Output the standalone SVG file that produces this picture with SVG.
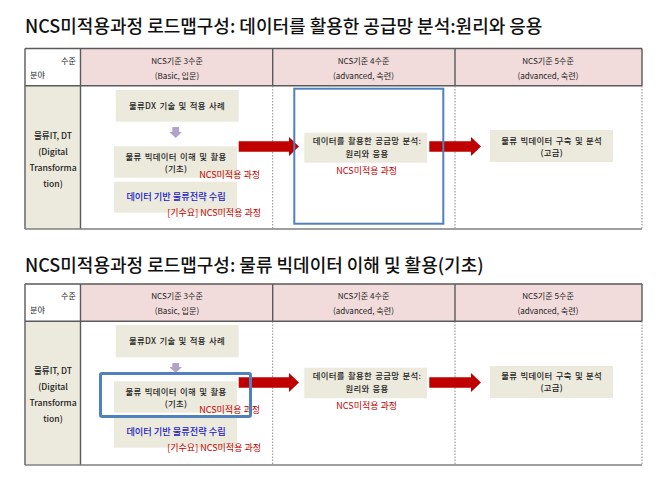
<svg xmlns="http://www.w3.org/2000/svg" width="660" height="495" viewBox="0 0 660 495">
<defs>
<style>
text{font-family:"Noto Sans CJK KR","Noto Sans",sans-serif;fill:#222}
.title{font-size:18px;font-weight:500;fill:#111}
.s{font-size:8.100px}
.m{font-size:8.400px;font-weight:500;letter-spacing:.3px;word-spacing:1px}
.l{font-size:8.600px;font-weight:500}
.c{text-anchor:middle}
.r{font-size:9px;fill:#c00000;font-weight:400}
.b{font-size:9.200px;fill:#2020c8;font-weight:500}
.hd{fill:#f2dcdb}
.bx{fill:#eceadc}
.ln{stroke:#5a5a5a;stroke-width:1.4;fill:none}
.bt{stroke:#7f7f7f;stroke-width:1.4;fill:none}
.dt{stroke:#8a8a8a;stroke-width:1;stroke-dasharray:1.5 1.5;fill:none}
.ar{fill:#c00000}
.pa{fill:#b3a2c7}
.hl{fill:none;stroke:#4f81bd}
</style>
</defs>
<rect width="660" height="495" fill="#fff"/>

<text class="title" x="25" y="33">NCS미적용과정 로드맵구성: 데이터를 활용한 공급망 분석:원리와 응용</text>
<g id="table-1">
<rect class="hd" x="81" y="48.500" width="561" height="37"/>
<rect class="bx" x="26" y="86" width="54.500" height="143"/>
<path class="ln" d="M25 48.500H642M25 85.800H642M25 48.500V229M80.500 48.500V229M272.700 48.500V85.800M455 48.500V85.800M642 48.500V85.800"/>
<path class="bt" d="M25 229H642"/>
<path class="dt" d="M272.700 86V229M455 86V229M642 86V229"/>
<g id="t1-corner"><text class="s" x="76" y="64" text-anchor="end">수준</text><text class="s" x="30" y="78">분야</text></g>
<g id="t1-h3"><text class="s c"><tspan x="177" y="64">NCS기준 3수준</tspan><tspan x="177" y="78.500">(Basic, 입문)</tspan></text></g>
<g id="t1-h4"><text class="s c"><tspan x="363.500" y="64">NCS기준 4수준</tspan><tspan x="363.500" y="78.500">(advanced, 숙련)</tspan></text></g>
<g id="t1-h5"><text class="s c"><tspan x="548" y="64">NCS기준 5수준</tspan><tspan x="548" y="78.500">(advanced, 숙련)</tspan></text></g>
<g id="t1-field"><text class="l c"><tspan x="53" y="139">물류IT, DT</tspan><tspan x="53" y="155">(Digital</tspan><tspan x="53" y="171">Transforma</tspan><tspan x="53" y="187">tion)</tspan></text></g>
</g>
<g id="t1-connectors">
<path class="pa" d="M172.300 127H179V132H182L175.700 138L169.300 132H172.300Z"/>
<path class="ar" d="M238.700 141.300H289V137L299 146.500L289 156V151.700H238.700Z"/>
<path class="ar" d="M429.300 141.300H471V137L481 146.500L471 156V151.700H429.300Z"/>
</g>
<g id="t1-n1"><rect class="bx" x="115.700" y="90" width="123" height="31.700"/><text class="m c" x="177" y="109">물류DX 기술 및 적용 사례</text></g>
<g id="t1-n2"><rect class="bx" x="114" y="146.300" width="123" height="31.400"/><text class="m c" x="176" y="159.500">물류 빅데이터 이해 및 활용</text><text class="m c" x="176" y="171.800">(기초)</text></g>
<g id="t1-n3"><rect class="bx" x="114" y="181.700" width="123" height="31"/><text class="b c" x="176" y="200">데이터 기반 물류전략 수립</text></g>
<g id="t1-n4"><rect class="bx" x="304.300" y="132.700" width="122.700" height="30"/><text class="m c" x="367" y="144.300">데이터를 활용한 공급망 분석:</text><text class="m c" x="367" y="156.600">원리와 응용</text></g>
<g id="t1-n5"><rect class="bx" x="490" y="130" width="123" height="32"/><text class="m c" x="551.700" y="144">물류 빅데이터 구축 및 분석</text><text class="m c" x="551.700" y="156.300">(고급)</text></g>
<g id="t1-notes">
<text class="r" x="260" y="178" text-anchor="end">NCS미적용 과정</text>
<text class="r" x="261" y="216" text-anchor="end">[기수요] NCS미적용 과정</text>
<text class="r c" x="366.700" y="173.700">NCS미적용 과정</text>
</g>
<rect id="t1-highlight" class="hl" x="294.300" y="88.700" width="149" height="135" stroke-width="2"/>

<text class="title" x="25" y="272">NCS미적용과정 로드맵구성: 물류 빅데이터 이해 및 활용(기초)</text>
<g id="table-2">
<rect class="hd" x="81" y="284" width="561" height="37"/>
<rect class="bx" x="26" y="321.500" width="54.500" height="143"/>
<path class="ln" d="M25 284H642M25 321.300H642M25 284V465M80.500 284V465M272.700 284V321.300M455 284V321.300M642 284V321.300"/>
<path class="bt" d="M25 465H642"/>
<path class="dt" d="M272.700 321.500V465M455 321.500V465M642 321.500V465"/>
<g id="t2-corner"><text class="s" x="76" y="299" text-anchor="end">수준</text><text class="s" x="30" y="313">분야</text></g>
<g id="t2-h3"><text class="s c"><tspan x="177" y="299">NCS기준 3수준</tspan><tspan x="177" y="313.500">(Basic, 입문)</tspan></text></g>
<g id="t2-h4"><text class="s c"><tspan x="363.500" y="299">NCS기준 4수준</tspan><tspan x="363.500" y="313.500">(advanced, 숙련)</tspan></text></g>
<g id="t2-h5"><text class="s c"><tspan x="548" y="299">NCS기준 5수준</tspan><tspan x="548" y="313.500">(advanced, 숙련)</tspan></text></g>
<g id="t2-field"><text class="l c"><tspan x="53" y="374">물류IT, DT</tspan><tspan x="53" y="390">(Digital</tspan><tspan x="53" y="406">Transforma</tspan><tspan x="53" y="422">tion)</tspan></text></g>
</g>
<g id="t2-connectors">
<path class="pa" d="M172.300 363H179V367H182L175.700 373L169.300 367H172.300Z"/>
<path class="ar" d="M238.700 377.300H289V373L299 382.500L289 392V387.700H238.700Z"/>
<path class="ar" d="M429.300 377.300H471V373L481 382.500L471 392V387.700H429.300Z"/>
</g>
<g id="t2-n1"><rect class="bx" x="115.700" y="325" width="123" height="32.300"/><text class="m c" x="177" y="344">물류DX 기술 및 적용 사례</text></g>
<g id="t2-n2"><rect class="bx" x="114" y="381.300" width="123" height="31.400"/><text class="m c" x="176" y="394.500">물류 빅데이터 이해 및 활용</text><text class="m c" x="176" y="406.800">(기초)</text></g>
<g id="t2-n3"><rect class="bx" x="114" y="416.700" width="123" height="31"/><text class="b c" x="176" y="435">데이터 기반 물류전략 수립</text></g>
<g id="t2-n4"><rect class="bx" x="304.300" y="367.700" width="122.700" height="30.600"/><text class="m c" x="367" y="379.300">데이터를 활용한 공급망 분석:</text><text class="m c" x="367" y="391.600">원리와 응용</text></g>
<g id="t2-n5"><rect class="bx" x="490" y="366" width="123" height="32"/><text class="m c" x="551.700" y="379">물류 빅데이터 구축 및 분석</text><text class="m c" x="551.700" y="391.300">(고급)</text></g>
<g id="t2-notes">
<text class="r" x="260" y="413" text-anchor="end">NCS미적용 과정</text>
<text class="r" x="261" y="451" text-anchor="end">[기수요] NCS미적용 과정</text>
<text class="r c" x="366.700" y="408.700">NCS미적용 과정</text>
</g>
<rect id="t2-highlight" class="hl" x="100.500" y="373.500" width="150" height="43" rx="1.500" stroke-width="3"/>
</svg>
